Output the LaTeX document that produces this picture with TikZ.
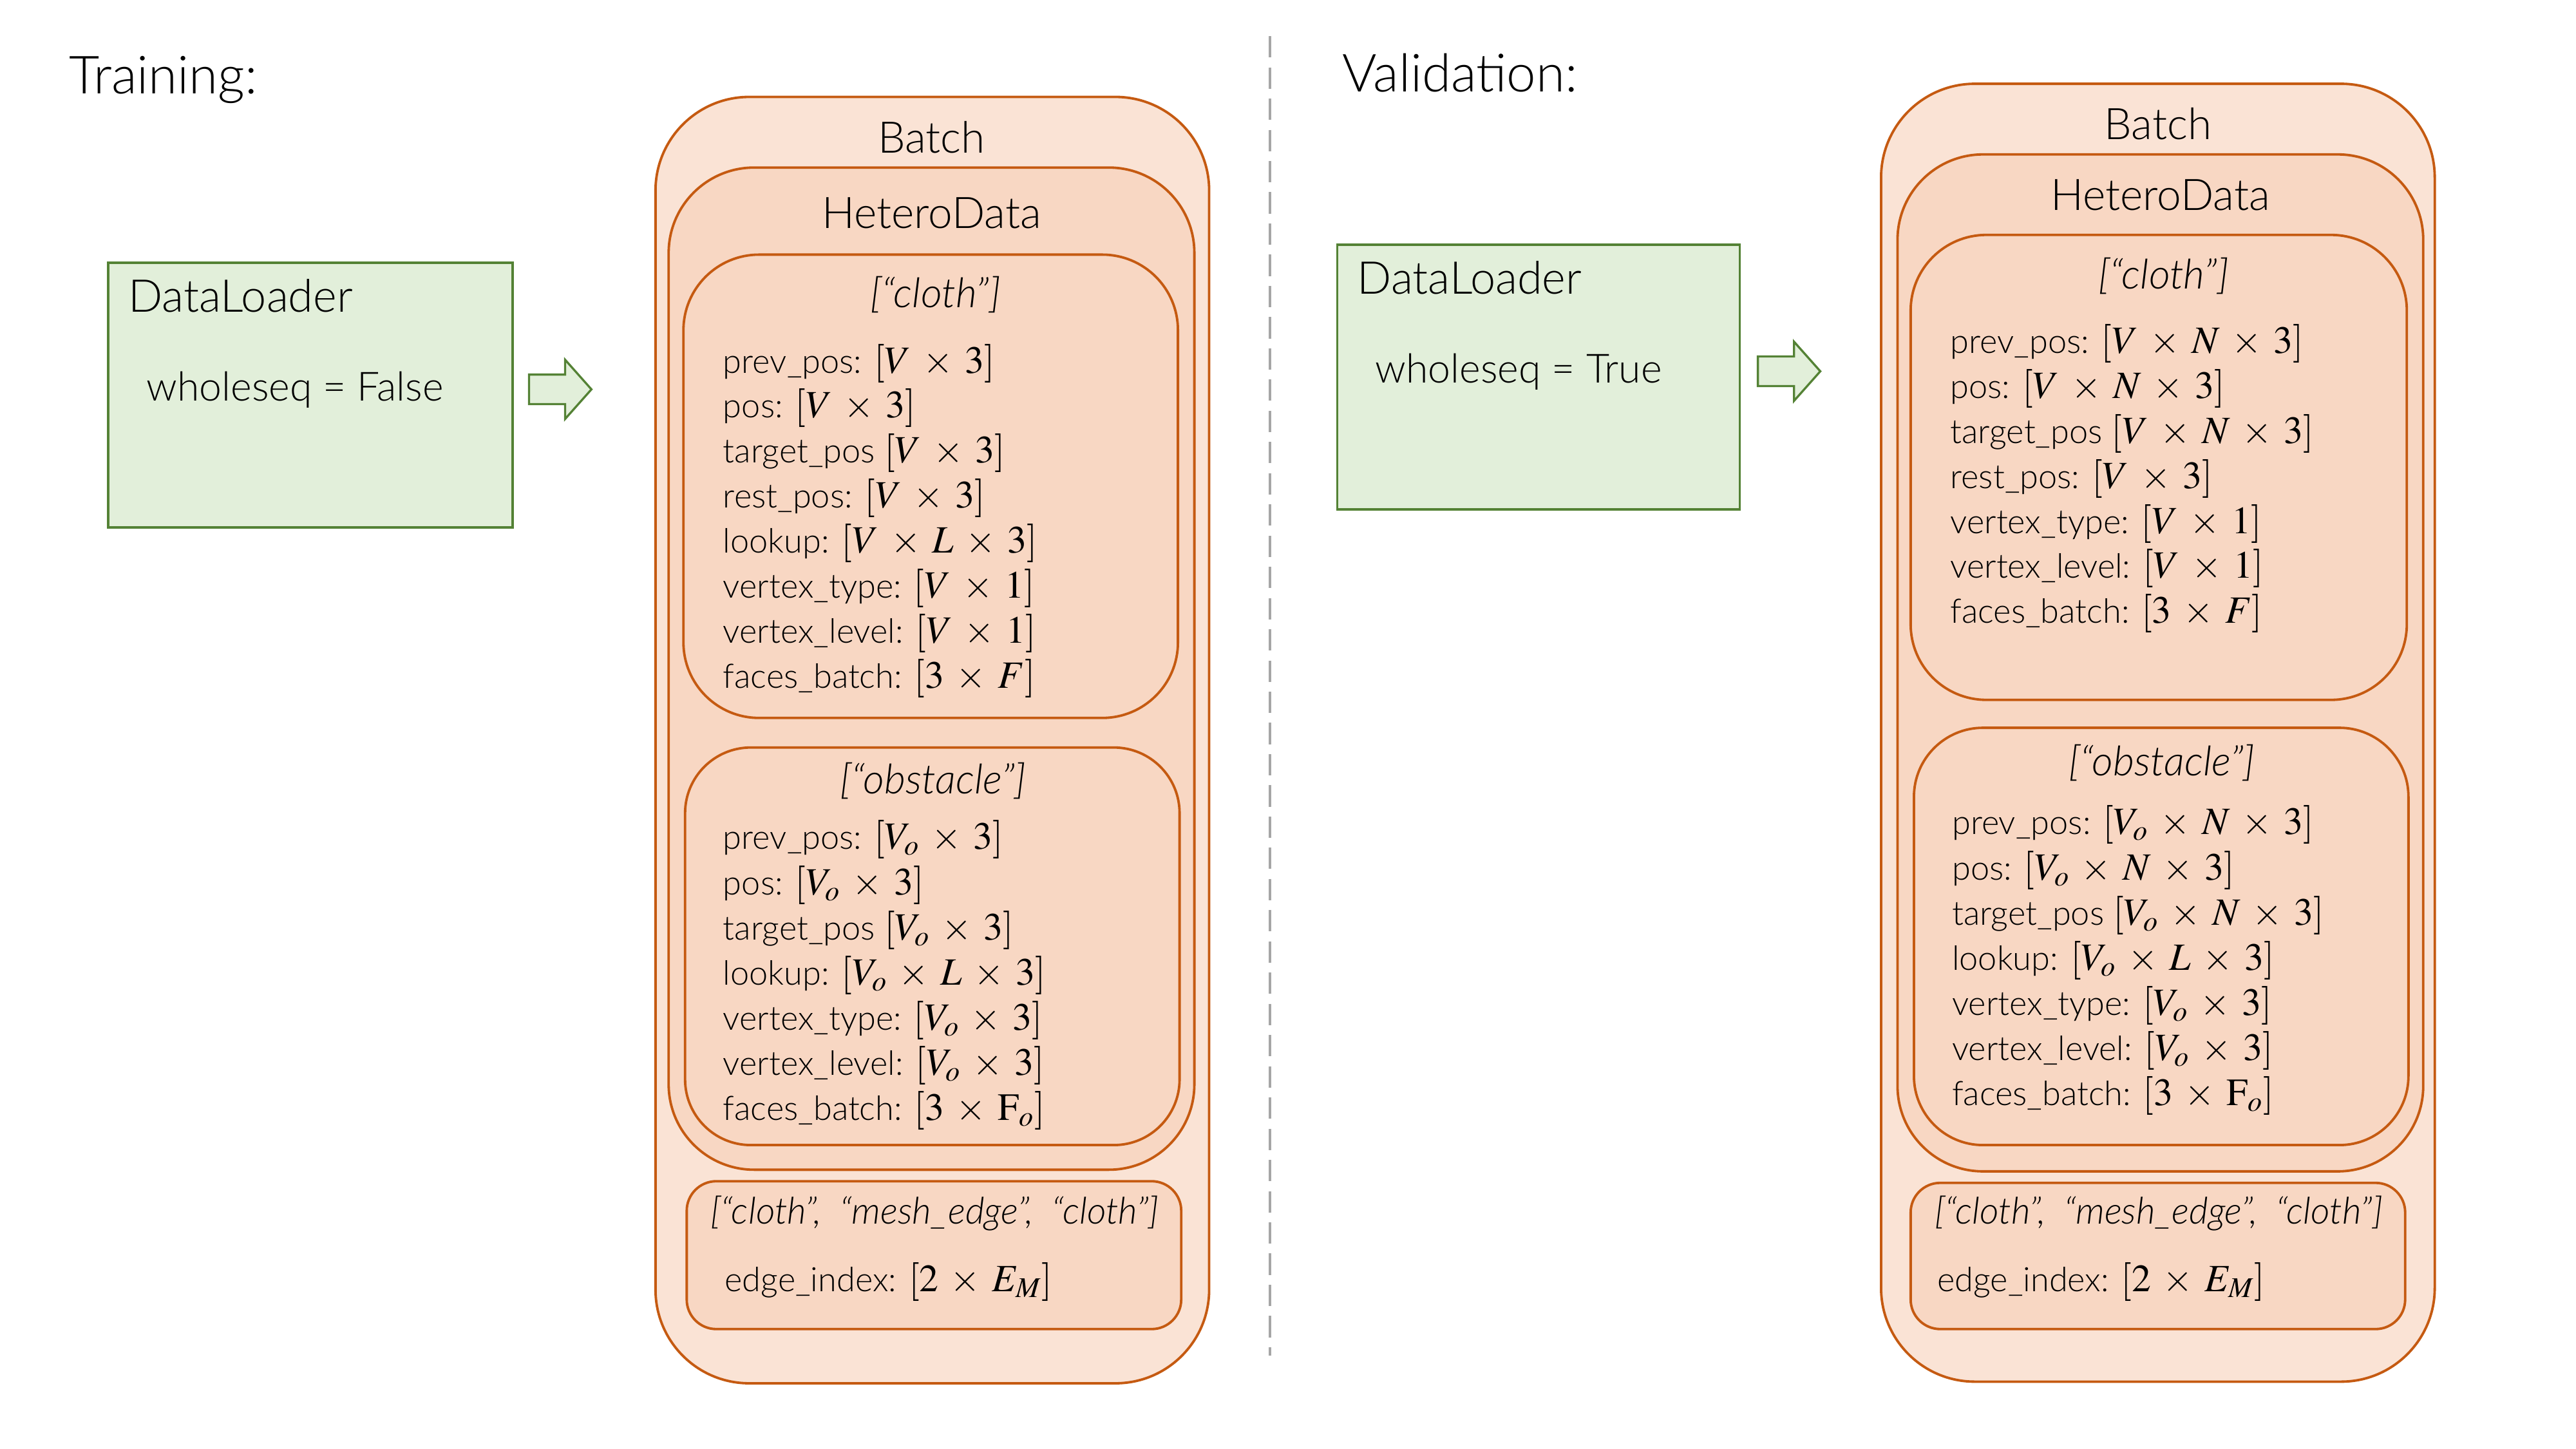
\documentclass[tikz,border=0pt]{standalone}
\usepackage{mathptmx}
\usepackage[no-math]{fontspec}
\setmainfont{Lato Light}[ItalicFont={Lato Light Italic}]
\usetikzlibrary{positioning}
\definecolor{gfill}{HTML}{E2EFDA}
\definecolor{gline}{HTML}{548235}
\definecolor{oline}{HTML}{C55A11}
\definecolor{bfill}{HTML}{FAE3D5}
\definecolor{ifill}{HTML}{F8D7C3}
\definecolor{sepgray}{HTML}{A6A6A6}
\newcommand{\bodyfont}{\fontsize{20.5}{24}\selectfont}
\newcommand{\headfont}{\fontsize{26.5}{30}\selectfont}
\newcommand{\mth}[1]{{\fontsize{23.5}{24}\selectfont\medmuskip=5.5mu$#1$}}
\begin{document}
\begin{tikzpicture}[x=1pt,y=-1pt,
  loader/.style={draw=gline,fill=gfill,line width=1.5pt,inner sep=0pt},
  batchbox/.style={draw=oline,fill=bfill,line width=1.5pt,inner sep=0pt},
  innerbox/.style={draw=oline,fill=ifill,line width=1.5pt,inner sep=0pt},
  ttl/.style={anchor=base west,inner sep=0pt,font=\fontsize{32}{35}\selectfont},
  head/.style={anchor=base,inner sep=0pt,font=\headfont},
  sub/.style={anchor=base,inner sep=0pt,font=\fontsize{25}{28}\selectfont\itshape},
  txtline/.style={anchor=base west,inner sep=0pt,font=\bodyfont},
  blockarrow/.style={draw=gline,fill=gfill,line width=1.3pt,line join=miter}
]
\useasboundingbox (0,0) rectangle (1568,882);
\fill[white] (0,0) rectangle (1568,882);

% ---------------- separator ----------------
\coordinate (sepT) at (773,22);
\coordinate (sepB) at (773,825);
\draw[sepgray,line width=1.3pt,dash pattern=on 13pt off 6pt] (sepT) -- (sepB);

% ================= TRAINING =================
\node[ttl] (trainT) at (42,57) {Training:};

\node[loader,minimum width=246pt,minimum height=161pt] (dl1) at (189,240.5) {};
\node[txtline,font=\fontsize{27.5}{30}\selectfont] (dl1t) at (78,190) {DataLoader};
\node[txtline,font=\fontsize{24.5}{28}\selectfont] (dl1w) at (89,244) {wholeseq = False};

\coordinate (a1) at (322,237);
\draw[blockarrow] (a1) ++(0,-9) -- ++(22,0) -- ++(0,-9) -- ++(16,18) -- ++(-16,18) -- ++(0,-9) -- ++(-22,0) -- cycle;

\node[batchbox,rounded corners=57pt,minimum width=337pt,minimum height=783pt] (b1) at (567.5,450.5) {};
\node[head] (b1t) at (567,93) {Batch};
\node[innerbox,rounded corners=52pt,minimum width=320pt,minimum height=610pt] (h1) at (567,407) {};
\node[head] (h1t) at (567,139) {HeteroData};

\node[innerbox,rounded corners=46pt,minimum width=301pt,minimum height=282pt] (c1) at (566.5,296) {};
\node[sub] (c1t) at (569.5,187) {[“cloth”]};
\node[txtline] (c1l1) at (440,227) {prev\_pos: \mth{[V\times 3]}};
\node[txtline] (c1l2) at (440,254.4) {pos: \mth{[V\times 3]}};
\node[txtline] (c1l3) at (440,281.8) {target\_pos \mth{[V\times 3]}};
\node[txtline] (c1l4) at (440,309.2) {rest\_pos: \mth{[V\times 3]}};
\node[txtline] (c1l5) at (440,336.6) {lookup: \mth{[V\times L\times 3]}};
\node[txtline] (c1l6) at (440,364) {vertex\_type: \mth{[V\times 1]}};
\node[txtline] (c1l7) at (440,391.4) {vertex\_level: \mth{[V\times 1]}};
\node[txtline] (c1l8) at (440,418.8) {faces\_batch: \mth{[3\times F]}};

\node[innerbox,rounded corners=40pt,minimum width=301pt,minimum height=242pt] (o1) at (567.5,576) {};
\node[sub] (o1t) at (568,483) {[“obstacle”]};
\node[txtline] (o1l1) at (440,517) {prev\_pos: \mth{[V_o\times 3]}};
\node[txtline] (o1l2) at (440,544.5) {pos: \mth{[V_o\times 3]}};
\node[txtline] (o1l3) at (440,572) {target\_pos \mth{[V_o\times 3]}};
\node[txtline] (o1l4) at (440,599.5) {lookup: \mth{[V_o\times L\times 3]}};
\node[txtline] (o1l5) at (440,627) {vertex\_type: \mth{[V_o\times 3]}};
\node[txtline] (o1l6) at (440,654.5) {vertex\_level: \mth{[V_o\times 3]}};
\node[txtline] (o1l7) at (440,682) {faces\_batch: \mth{[3\times \mathrm{F}_o]}};

\node[innerbox,rounded corners=18pt,minimum width=301pt,minimum height=90pt] (e1) at (568.5,764) {};
\node[sub,font=\fontsize{22.5}{26}\selectfont\itshape] (e1t) at (569,745) {[“cloth”,\ \ “mesh\_edge”,\ \ “cloth”]};
\node[txtline] (e1l1) at (441,786) {edge\_index: \mth{[2\times E_M]}};

% ================= VALIDATION =================
\node[ttl] (valT) at (817,56) {Validation:};

\node[loader,minimum width=245pt,minimum height=161pt] (dl2) at (936.5,229.5) {};
\node[txtline,font=\fontsize{27.5}{30}\selectfont] (dl2t) at (826,179) {DataLoader};
\node[txtline,font=\fontsize{24.5}{28}\selectfont] (dl2w) at (837,233) {wholeseq = True};

\coordinate (a2) at (1070,226);
\draw[blockarrow] (a2) ++(0,-9) -- ++(22,0) -- ++(0,-9) -- ++(16,18) -- ++(-16,18) -- ++(0,-9) -- ++(-22,0) -- cycle;

\node[batchbox,rounded corners=57pt,minimum width=337pt,minimum height=790pt] (b2) at (1313.5,446) {};
\node[head] (b2t) at (1313.5,85) {Batch};
\node[innerbox,rounded corners=52pt,minimum width=320pt,minimum height=619pt] (h2) at (1315,403.5) {};
\node[head] (h2t) at (1315,128) {HeteroData};

\node[innerbox,rounded corners=46pt,minimum width=302pt,minimum height=283pt] (c2) at (1314,284.5) {};
\node[sub] (c2t) at (1317,176) {[“cloth”]};
\node[txtline] (c2l1) at (1187,215) {prev\_pos: \mth{[V\times N\times 3]}};
\node[txtline] (c2l2) at (1187,242.4) {pos: \mth{[V\times N\times 3]}};
\node[txtline] (c2l3) at (1187,269.8) {target\_pos \mth{[V\times N\times 3]}};
\node[txtline] (c2l4) at (1187,297.2) {rest\_pos: \mth{[V\times 3]}};
\node[txtline] (c2l5) at (1187,324.6) {vertex\_type: \mth{[V\times 1]}};
\node[txtline] (c2l6) at (1187,352) {vertex\_level: \mth{[V\times 1]}};
\node[txtline] (c2l7) at (1187,379.4) {faces\_batch: \mth{[3\times F]}};

\node[innerbox,rounded corners=42pt,minimum width=301pt,minimum height=254pt] (o2) at (1315.5,570) {};
\node[sub] (o2t) at (1316,472) {[“obstacle”]};
\node[txtline] (o2l1) at (1188,508) {prev\_pos: \mth{[V_o\times N\times 3]}};
\node[txtline] (o2l2) at (1188,535.5) {pos: \mth{[V_o\times N\times 3]}};
\node[txtline] (o2l3) at (1188,563) {target\_pos \mth{[V_o\times N\times 3]}};
\node[txtline] (o2l4) at (1188,590.5) {lookup: \mth{[V_o\times L\times 3]}};
\node[txtline] (o2l5) at (1188,618) {vertex\_type: \mth{[V_o\times 3]}};
\node[txtline] (o2l6) at (1188,645.5) {vertex\_level: \mth{[V_o\times 3]}};
\node[txtline] (o2l7) at (1188,673) {faces\_batch: \mth{[3\times \mathrm{F}_o]}};

\node[innerbox,rounded corners=18pt,minimum width=301pt,minimum height=89pt] (e2) at (1313.5,764.5) {};
\node[sub,font=\fontsize{22.5}{26}\selectfont\itshape] (e2t) at (1314,745) {[“cloth”,\ \ “mesh\_edge”,\ \ “cloth”]};
\node[txtline] (e2l1) at (1179,786) {edge\_index: \mth{[2\times E_M]}};
\end{tikzpicture}
\end{document}
